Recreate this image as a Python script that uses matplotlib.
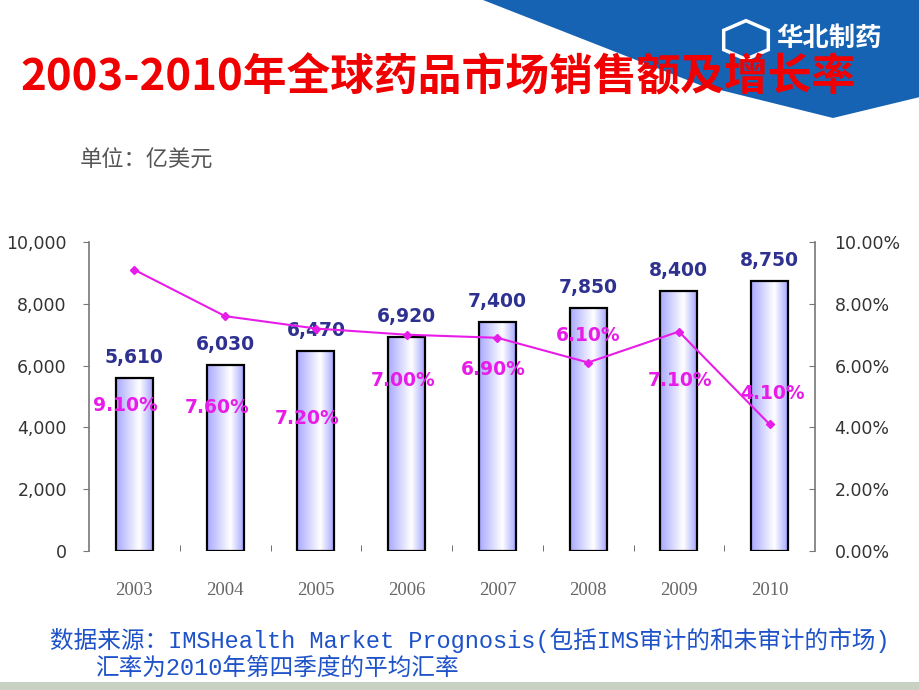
import matplotlib
matplotlib.use("Agg")
import matplotlib.pyplot as plt
import numpy as np
from matplotlib.patches import Polygon, Rectangle, RegularPolygon
from matplotlib.colors import LinearSegmentedColormap
from matplotlib.ticker import FuncFormatter, FixedLocator

plt.rcParams['font.family'] = ['Noto Sans CJK SC', 'DejaVu Sans']

# ---- data ----
years = ["2003", "2004", "2005", "2006", "2007", "2008", "2009", "2010"]
sales = [5610, 6030, 6470, 6920, 7400, 7850, 8400, 8750]          # 亿美元
growth = [9.1, 7.6, 7.2, 7.0, 6.9, 6.1, 7.1, 4.1]                  # %
growth_labels = ["9.10%", "7.60%", "7.20%", "7.00%", "6.90%", "6.10%", "7.10%", "4.10%"]
sales_labels = ["5,610", "6,030", "6,470", "6,920", "7,400", "7,850", "8,400", "8,750"]
# label placement for growth data labels (right-axis units / category offsets)
pct_label_y = [4.72, 4.66, 4.30, 5.53, 5.86, 6.96, 5.53, 5.11]
pct_label_dx = [-0.10, -0.09, -0.10, -0.04, -0.05, 0.0, 0.01, 0.03]

W, H = 920, 690
fig = plt.figure(figsize=(W / 100, H / 100), dpi=100)
fig.patch.set_facecolor("white")

def fx(x):
    return x / W

def fy(y):
    return 1 - y / H

# background decorations
blue = "#1763B3"
fig.patches.append(Polygon([[fx(483), fy(0)], [fx(920), fy(0)], [fx(920), fy(97)],
                            [fx(833), fy(118)], [fx(700), fy(85)]],
                           closed=True, transform=fig.transFigure, facecolor=blue,
                           edgecolor="none", zorder=0))
fig.patches.append(RegularPolygon((fx(746), fy(40)), 6, radius=0.028,
                                  orientation=0, transform=fig.transFigure,
                                  facecolor="none", edgecolor="white", lw=2.5, zorder=1))
fig.text(fx(776), fy(38), "华北制药", color="white", fontsize=19, fontweight="bold",
         ha="left", va="center", zorder=2)
fig.patches.append(Rectangle((0, 0), 1, (690 - 682) / H, transform=fig.transFigure,
                             facecolor="#c9d1c3", edgecolor="none", zorder=0))

# title
fig.text(fx(20), fy(77), "2003-2010年全球药品市场销售额及增长率", color="#F00000",
         fontsize=31.5, fontweight="bold", ha="left", va="center", zorder=5)
fig.text(fx(80), fy(160), "单位：亿美元", color="#555555", fontsize=16,
         ha="left", va="center")

# footer
footer_fam = ['Liberation Mono', 'Noto Sans CJK SC']
fig.text(fx(50), fy(640), "数据来源：IMSHealth Market Prognosis(包括IMS审计的和未审计的市场)",
         color="#1E52C8", fontsize=17, ha="left", va="center", family=footer_fam)
fig.text(fx(95), fy(668), "汇率为2010年第四季度的平均汇率",
         color="#1E52C8", fontsize=17, ha="left", va="center", family=footer_fam)

# axes
ax = fig.add_axes([fx(89), fy(551), fx(815) - fx(89), (551 - 242) / H])
ax.set_facecolor("none")
x = np.arange(len(years))
bw = 0.41
bars = ax.bar(x, sales, width=bw, facecolor="none", edgecolor="black", linewidth=1.6, zorder=3)

cmap = LinearSegmentedColormap.from_list("bargrad", [(0, "#a8a8ff"), (0.62, "#ffffff"), (1, "#a0a0ff")])
grad = np.linspace(0, 1, 256).reshape(1, -1)
for b in bars:
    x0, w, h = b.get_x(), b.get_width(), b.get_height()
    im = ax.imshow(grad, cmap=cmap, extent=[x0, x0 + w, 0, h], aspect="auto",
                   origin="lower", zorder=2)
    im.set_clip_path(b)

for xi, v, lab in zip(x, sales, sales_labels):
    ax.annotate(lab, (xi, v), xytext=(0, 8), textcoords="offset points",
                ha="center", va="bottom", color="#2E3190", fontsize=13.5,
                fontweight="bold", family=["DejaVu Sans"])

ax.set_xlim(-0.5, len(years) - 0.5)
ax.set_ylim(0, 10000)
ax.set_yticks(np.arange(0, 10001, 2000))
ax.yaxis.set_major_formatter(FuncFormatter(lambda v, p: f"{int(v):,}"))
ax.set_xticks(x)
ax.set_xticklabels(years)
ax.xaxis.set_minor_locator(FixedLocator(np.arange(0.5, len(years) - 1, 1.0)))
ax.tick_params(axis="x", which="major", length=0, pad=22, labelsize=13.5, labelcolor="#666666")
ax.tick_params(axis="x", which="minor", length=4, color="#555555", direction="in")
for lbl in ax.get_xticklabels():
    lbl.set_family(["Liberation Serif"])
ax.tick_params(axis="y", length=4, color="#777777", pad=12, labelsize=12.5, labelcolor="#333333")
for lbl in ax.get_yticklabels():
    lbl.set_family(["DejaVu Sans"])
for s in ["top", "right", "bottom"]:
    ax.spines[s].set_visible(False)
ax.spines["left"].set_color("#777777")
ax.spines["left"].set_linewidth(1.2)

ax2 = ax.twinx()
ax2.set_facecolor("none")
ax2.plot(x, growth, color="#E81CE8", lw=1.5, marker="D", markersize=4.5, zorder=5)
for xi, yl, dx, lab in zip(x, pct_label_y, pct_label_dx, growth_labels):
    ax2.text(xi + dx, yl, lab, color="#E81CE8", fontsize=13.5, fontweight="bold",
             ha="center", va="center", family=["DejaVu Sans"], zorder=6)
ax2.set_ylim(0, 10)
ax2.set_yticks(np.arange(0, 10.01, 2))
ax2.yaxis.set_major_formatter(FuncFormatter(lambda v, p: f"{v:.2f}%"))
ax2.tick_params(axis="y", length=4, color="#777777", direction="in", pad=14,
                labelsize=12.5, labelcolor="#333333")
for lbl in ax2.get_yticklabels():
    lbl.set_family(["DejaVu Sans"])
for s in ["top", "left", "bottom"]:
    ax2.spines[s].set_visible(False)
ax2.spines["right"].set_color("#777777")
ax2.spines["right"].set_linewidth(1.2)

fig.savefig("out.png", dpi=100)
